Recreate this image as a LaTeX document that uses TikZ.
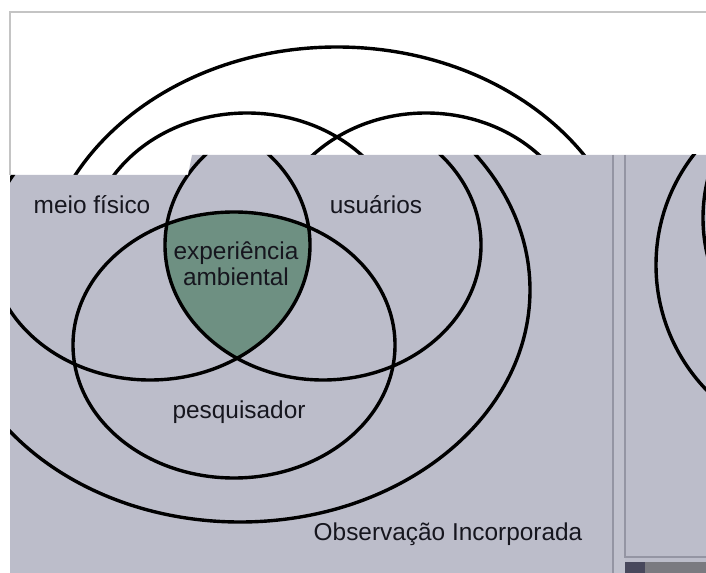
\documentclass[tikz,border=0pt]{standalone}
\usepackage{fontspec}
\setmainfont{Liberation Sans}
\definecolor{panel}{RGB}{188,189,202}
\definecolor{panelsep}{RGB}{192,193,205}
\definecolor{venngreen}{RGB}{110,144,130}
\definecolor{sepline}{RGB}{148,149,163}
\definecolor{txt}{RGB}{22,22,30}
\definecolor{framegray}{RGB}{196,196,196}
\definecolor{barg}{RGB}{122,122,128}
\definecolor{icong}{RGB}{72,72,92}
\begin{document}
\begin{tikzpicture}[x=0.5bp,y=-0.5bp,
  ring/.style={draw=black,line width=1.7bp},
  lbl/.style={text=txt,font=\fontsize{12.2bp}{13.5bp}\selectfont,inner sep=0pt,anchor=base}]
\useasboundingbox (0,0) rectangle (706,573);
\fill[white] (0,0) rectangle (706,573);
% diagram of the window behind
\begin{scope}
  \clip (10,12) rectangle (706,175);
  \draw[ring] (337,290) ellipse [x radius=297,y radius=243];
  \draw[ring] (247,248) ellipse [x radius=158,y radius=135];
  \draw[ring] (426,248) ellipse [x radius=156,y radius=135];
\end{scope}
\draw[framegray,line width=0.6bp] (706,12) -- (10,12) -- (10,175);
% front panel
\fill[panel] (10,175) -- (188,175) -- (192,155) -- (706,155) -- (706,573) -- (10,573) -- cycle;
\fill[panelsep] (613,155) rectangle (625,573);
\begin{scope}
  \clip (10,175) -- (188,175) -- (192,155) -- (613,155) -- (613,573) -- (10,573) -- cycle;
  \begin{scope}
    \clip (150,245) ellipse [x radius=160,y radius=135];
    \clip (323,245) ellipse [x radius=158,y radius=135];
    \fill[venngreen] (234,345) ellipse [x radius=161,y radius=133];
  \end{scope}
  \draw[ring] (150,245) ellipse [x radius=160,y radius=135];
  \draw[ring] (323,245) ellipse [x radius=158,y radius=135];
  \draw[ring] (234,345) ellipse [x radius=161,y radius=133];
  \draw[ring] (240,290) ellipse [x radius=290,y radius=232];
\end{scope}
% right pane
\begin{scope}
  \clip (625,155) rectangle (706,557);
  \draw[ring] (836,265) circle [radius=180];
  \draw[ring] (863,218) circle [radius=160];
\end{scope}
\draw[sepline,line width=0.6bp] (613,155) -- (613,573);
\draw[sepline,line width=0.6bp] (625,155) -- (625,557) -- (706,557);
\fill[icong] (625,562) rectangle (645,573);
\fill[barg] (645,562) rectangle (706,573);
% labels
\node[lbl] (meio) at (92,213) {meio físico};
\node[lbl] (usu) at (376,213) {usuários};
\node[lbl] (exp1) at (236,260) {experiência};
\node[lbl] (exp2) at (236,285) {ambiental};
\node[lbl] (pesq) at (239,418) {pesquisador};
\node[lbl] (obs) at (448,540) {Observação Incorporada};
\end{tikzpicture}
\end{document}
